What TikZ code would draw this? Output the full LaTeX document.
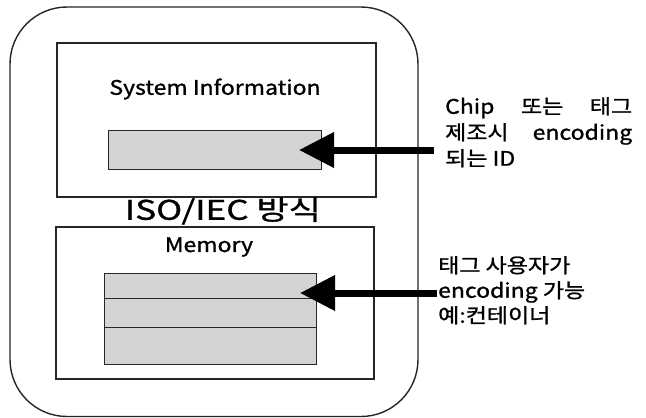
\documentclass[tikz,border=0pt]{standalone}
\usepackage{fontspec}
\setmainfont{Noto Sans CJK KR}[FakeStretch=1.15, FakeBold=1.2]
\usepackage{tikz}
\usetikzlibrary{arrows.meta}

\begin{document}
\begin{tikzpicture}[
  x=1pt, y=-1pt,
  frame/.style={draw=black!85, line width=1.4pt, rounded corners=57pt},
  part/.style={draw=black!85, line width=1.2pt, fill=white},
  cell/.style={draw=black!85, line width=1pt, fill=black!17},
  label/.style={font=\fontsize{20}{24}\selectfont, inner sep=0pt},
  note/.style={font=\fontsize{20}{25}\selectfont, inner sep=0pt,
    align=left, anchor=north west},
  pointer/.style={-{Triangle[length=35pt,width=34pt]}, line width=7pt,
    draw=black}
]
\useasboundingbox (0,0) rectangle (646,418);
\fill[white] (0,0) rectangle (646,418);
\draw[frame] (10,7) rectangle (418,416.5);

% upper part
\draw[part] (57,43) rectangle (376,197);
\node[label] (sysinfo) at (215,89) {System Information};
\draw[cell] (108,130) rectangle (321,169);

% title between the parts
\node[font=\fontsize{27}{32}\selectfont\addfontfeature{FakeStretch=1.3},
  inner sep=0pt] (isolabel) at (223,211) {ISO/IEC 방식};

% lower part
\draw[part] (56,227) rectangle (374,379);
\node[label] (memory) at (209,247) {Memory};
\draw[cell] (104,273) rectangle (316,298);
\draw[cell] (104,298) rectangle (316,327);
\draw[cell] (104,327) rectangle (316,364);

% notes on the right
\node[note, font=\fontsize{20}{26}\selectfont] (chipnote) at (445,97)
  {\makebox[187pt][s]{Chip 또는 태그}\\
   \makebox[187pt][s]{제조시 encoding}\\
   되는 ID};
\node[note] (usernote) at (438,256)
  {태그 사용자가\\encoding 가능\\예:컨테이너};

\coordinate (chipTail) at (434,150);
\coordinate (chipTip) at (299,150);
\coordinate (userTail) at (437,293);
\coordinate (userTip) at (300,293);
\draw[pointer] (chipTail) -- (chipTip);
\draw[pointer] (userTail) -- (userTip);
\end{tikzpicture}
\end{document}
